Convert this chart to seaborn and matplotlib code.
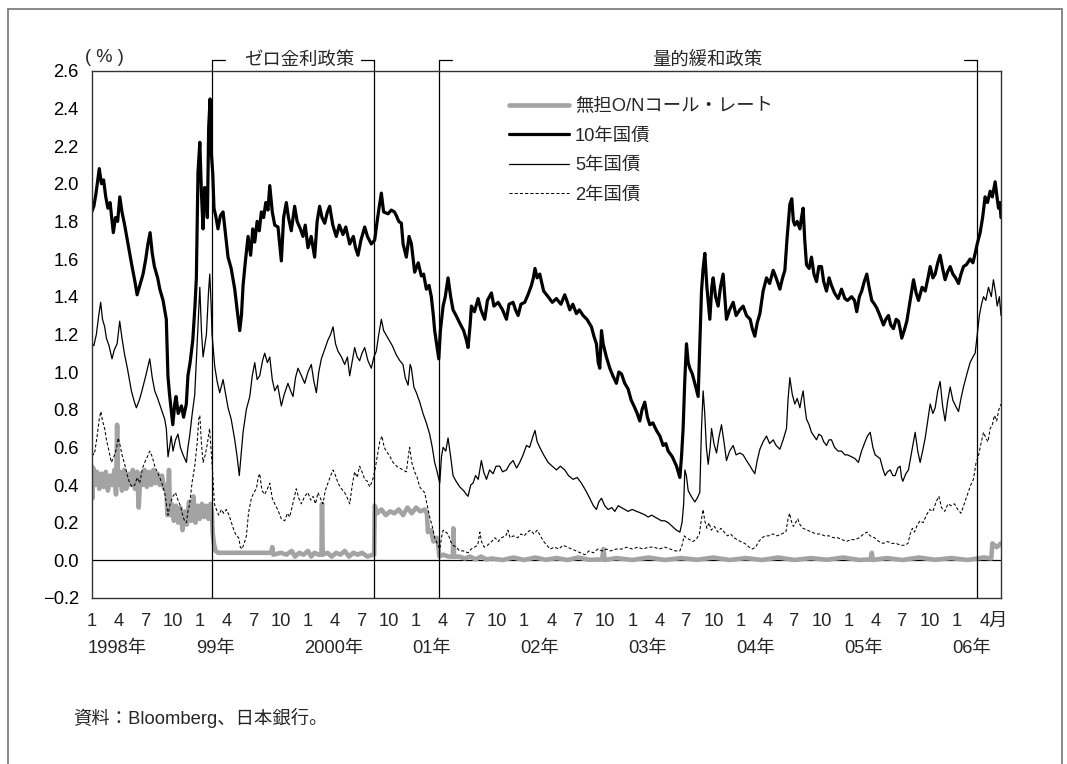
import numpy as np
import matplotlib
matplotlib.use("Agg")
import matplotlib.pyplot as plt
import matplotlib.transforms as mtransforms
from matplotlib.lines import Line2D
import seaborn as sns

# ---------------- data (decimal years, percent) ----------------
jgb10_t = [1998.00, 1998.02, 1998.04, 1998.07, 1998.09, 1998.11, 1998.13, 1998.15, 1998.17, 1998.20,
           1998.22, 1998.24, 1998.26, 1998.28, 1998.305, 1998.33, 1998.37, 1998.40, 1998.42, 1998.45,
           1998.475, 1998.50, 1998.52, 1998.54, 1998.56, 1998.58, 1998.61, 1998.63, 1998.66, 1998.69,
           1998.705, 1998.72, 1998.735, 1998.75, 1998.77, 1998.78, 1998.80, 1998.83, 1998.85, 1998.875,
           1998.89, 1998.91, 1998.935, 1998.955, 1998.968, 1998.983, 1999.00, 1999.015, 1999.03, 1999.045,
           1999.061, 1999.07, 1999.082, 1999.095, 1999.108, 1999.12, 1999.131, 1999.15, 1999.168, 1999.19,
           1999.215, 1999.24, 1999.261, 1999.29, 1999.323, 1999.345, 1999.369, 1999.385, 1999.40, 1999.42,
           1999.446, 1999.47, 1999.49, 1999.508, 1999.53, 1999.55, 1999.569, 1999.59, 1999.61, 1999.63,
           1999.647, 1999.67, 1999.693, 1999.723, 1999.754, 1999.775, 1999.80, 1999.82, 1999.846, 1999.877,
           1999.90, 1999.93, 1999.954, 1999.975, 2000.00, 2000.03, 2000.062, 2000.085, 2000.108, 2000.13,
           2000.155, 2000.18, 2000.201, 2000.23, 2000.262, 2000.29, 2000.324, 2000.35, 2000.386, 2000.42,
           2000.44, 2000.463, 2000.49, 2000.525, 2000.55, 2000.586, 2000.617, 2000.64, 2000.66, 2000.679,
           2000.70, 2000.741, 2000.77, 2000.80, 2000.818, 2000.84, 2000.864, 2000.88, 2000.91, 2000.935,
           2000.957, 2000.987, 2001.02, 2001.049, 2001.07, 2001.095, 2001.12, 2001.141, 2001.16, 2001.172,
           2001.19, 2001.21, 2001.225, 2001.25, 2001.27, 2001.296, 2001.32, 2001.342, 2001.37, 2001.404,
           2001.44, 2001.465, 2001.481, 2001.50, 2001.512, 2001.54, 2001.574, 2001.60, 2001.635, 2001.66,
           2001.697, 2001.72, 2001.759, 2001.80, 2001.836, 2001.86, 2001.897, 2001.92, 2001.944, 2001.97,
           2002.005, 2002.035, 2002.067, 2002.085, 2002.10, 2002.12, 2002.144, 2002.18, 2002.221, 2002.26,
           2002.298, 2002.34, 2002.375, 2002.40, 2002.422, 2002.45, 2002.483, 2002.51, 2002.545, 2002.58,
           2002.622, 2002.645, 2002.668, 2002.685, 2002.699, 2002.715, 2002.73, 2002.76, 2002.792, 2002.82,
           2002.853, 2002.875, 2002.90, 2002.93, 2002.961, 2002.99, 2003.023, 2003.045, 2003.069, 2003.09,
           2003.115, 2003.14, 2003.162, 2003.19, 2003.223, 2003.255, 2003.285, 2003.31, 2003.332, 2003.37,
           2003.409, 2003.44, 2003.455, 2003.47, 2003.485, 2003.501, 2003.517, 2003.532, 2003.555, 2003.578,
           2003.609, 2003.625, 2003.64, 2003.655, 2003.671, 2003.69, 2003.717, 2003.735, 2003.748, 2003.77,
           2003.794, 2003.815, 2003.84, 2003.855, 2003.871, 2003.90, 2003.933, 2003.96, 2003.994, 2004.025,
           2004.056, 2004.09, 2004.11, 2004.133, 2004.155, 2004.18, 2004.21, 2004.241, 2004.27, 2004.303,
           2004.33, 2004.365, 2004.39, 2004.411, 2004.43, 2004.457, 2004.475, 2004.49, 2004.503, 2004.525,
           2004.55, 2004.565, 2004.58, 2004.595, 2004.611, 2004.635, 2004.657, 2004.68, 2004.704, 2004.725,
           2004.75, 2004.77, 2004.796, 2004.82, 2004.842, 2004.87, 2004.904, 2004.935, 2004.966, 2004.99,
           2005.028, 2005.055, 2005.076, 2005.10, 2005.122, 2005.145, 2005.169, 2005.19, 2005.215, 2005.24,
           2005.261, 2005.29, 2005.323, 2005.345, 2005.369, 2005.39, 2005.415, 2005.44, 2005.462, 2005.48,
           2005.492, 2005.515, 2005.539, 2005.57, 2005.601, 2005.625, 2005.647, 2005.68, 2005.709, 2005.735,
           2005.755, 2005.78, 2005.801, 2005.825, 2005.847, 2005.87, 2005.893, 2005.915, 2005.94, 2005.965,
           2005.99, 2006.017, 2006.04, 2006.063, 2006.09, 2006.124, 2006.15, 2006.171, 2006.19, 2006.217,
           2006.24, 2006.263, 2006.285, 2006.31, 2006.33, 2006.356, 2006.375, 2006.387, 2006.40, 2006.41]
jgb10_v = [1.85, 1.88, 1.95, 2.08, 2.00, 2.02, 1.93, 1.87, 1.90, 1.74,
           1.82, 1.80, 1.93, 1.85, 1.78, 1.70, 1.57, 1.48, 1.41, 1.47,
           1.52, 1.60, 1.68, 1.74, 1.63, 1.56, 1.50, 1.44, 1.38, 1.28,
           0.98, 0.88, 0.80, 0.72, 0.84, 0.87, 0.78, 0.82, 0.76, 0.83,
           0.98, 1.05, 1.17, 1.35, 1.50, 2.06, 2.22, 1.95, 1.76, 1.98,
           1.94, 1.82, 2.30, 2.45, 2.15, 2.05, 1.87, 1.82, 1.76, 1.83,
           1.85, 1.72, 1.61, 1.55, 1.44, 1.33, 1.22, 1.30, 1.46, 1.58,
           1.72, 1.62, 1.76, 1.69, 1.80, 1.75, 1.85, 1.82, 1.90, 1.86,
           1.99, 1.85, 1.78, 1.77, 1.59, 1.82, 1.90, 1.82, 1.75, 1.88,
           1.80, 1.76, 1.72, 1.78, 1.66, 1.72, 1.61, 1.80, 1.88, 1.82,
           1.79, 1.85, 1.88, 1.78, 1.72, 1.78, 1.73, 1.77, 1.68, 1.72,
           1.66, 1.62, 1.70, 1.77, 1.72, 1.68, 1.70, 1.80, 1.88, 1.95,
           1.85, 1.84, 1.86, 1.85, 1.83, 1.80, 1.79, 1.68, 1.61, 1.72,
           1.68, 1.53, 1.58, 1.51, 1.52, 1.44, 1.46, 1.40, 1.30, 1.22,
           1.15, 1.07, 1.22, 1.35, 1.40, 1.50, 1.40, 1.33, 1.30, 1.26,
           1.22, 1.17, 1.13, 1.25, 1.35, 1.32, 1.39, 1.33, 1.28, 1.38,
           1.42, 1.35, 1.37, 1.33, 1.28, 1.36, 1.37, 1.33, 1.30, 1.36,
           1.37, 1.41, 1.46, 1.50, 1.55, 1.50, 1.52, 1.43, 1.40, 1.37,
           1.39, 1.36, 1.41, 1.37, 1.33, 1.36, 1.31, 1.33, 1.30, 1.28,
           1.24, 1.19, 1.15, 1.05, 1.02, 1.22, 1.15, 1.08, 1.02, 0.98,
           0.94, 1.00, 0.99, 0.94, 0.91, 0.85, 0.81, 0.78, 0.74, 0.80,
           0.84, 0.76, 0.72, 0.73, 0.69, 0.66, 0.61, 0.62, 0.58, 0.55,
           0.50, 0.44, 0.55, 0.70, 0.95, 1.15, 1.05, 1.02, 0.99, 0.94,
           0.87, 1.15, 1.43, 1.55, 1.63, 1.45, 1.28, 1.45, 1.50, 1.40,
           1.35, 1.45, 1.52, 1.40, 1.28, 1.33, 1.37, 1.30, 1.33, 1.35,
           1.30, 1.28, 1.23, 1.19, 1.26, 1.31, 1.43, 1.50, 1.47, 1.54,
           1.50, 1.44, 1.50, 1.54, 1.70, 1.89, 1.92, 1.80, 1.78, 1.80,
           1.76, 1.82, 1.87, 1.70, 1.57, 1.55, 1.61, 1.52, 1.48, 1.56,
           1.56, 1.48, 1.43, 1.50, 1.46, 1.42, 1.39, 1.44, 1.39, 1.38,
           1.40, 1.38, 1.32, 1.40, 1.43, 1.48, 1.52, 1.45, 1.38, 1.36,
           1.34, 1.30, 1.25, 1.28, 1.30, 1.25, 1.23, 1.28, 1.27, 1.22,
           1.18, 1.22, 1.27, 1.38, 1.49, 1.42, 1.38, 1.45, 1.43, 1.50,
           1.56, 1.50, 1.52, 1.58, 1.62, 1.55, 1.49, 1.53, 1.56, 1.52,
           1.50, 1.47, 1.52, 1.56, 1.57, 1.60, 1.58, 1.63, 1.68, 1.74,
           1.82, 1.93, 1.90, 1.96, 1.93, 2.01, 1.92, 1.87, 1.90, 1.82]

jgb5_t = [1998.00, 1998.02, 1998.043, 1998.065, 1998.083, 1998.10, 1998.12, 1998.136, 1998.16, 1998.188,
          1998.21, 1998.235, 1998.259, 1998.28, 1998.305, 1998.33, 1998.367, 1998.39, 1998.413, 1998.44,
          1998.46, 1998.50, 1998.537, 1998.56, 1998.583, 1998.61, 1998.645, 1998.675, 1998.69, 1998.706,
          1998.72, 1998.735, 1998.752, 1998.775, 1998.798, 1998.82, 1998.845, 1998.876, 1998.89, 1998.906,
          1998.93, 1998.953, 1998.975, 1999.00, 1999.015, 1999.03, 1999.061, 1999.08, 1999.092, 1999.105,
          1999.113, 1999.138, 1999.16, 1999.184, 1999.215, 1999.24, 1999.261, 1999.29, 1999.323, 1999.345,
          1999.365, 1999.38, 1999.40, 1999.43, 1999.462, 1999.485, 1999.508, 1999.53, 1999.554, 1999.58,
          1999.60, 1999.625, 1999.647, 1999.67, 1999.693, 1999.72, 1999.754, 1999.78, 1999.815, 1999.84,
          1999.862, 1999.885, 1999.908, 1999.94, 1999.970, 2000.00, 2000.031, 2000.055, 2000.078, 2000.10,
          2000.124, 2000.155, 2000.185, 2000.21, 2000.232, 2000.255, 2000.278, 2000.31, 2000.34, 2000.365,
          2000.386, 2000.41, 2000.432, 2000.455, 2000.478, 2000.50, 2000.525, 2000.555, 2000.586, 2000.61,
          2000.632, 2000.655, 2000.679, 2000.70, 2000.72, 2000.741, 2000.78, 2000.818, 2000.85, 2000.879,
          2000.90, 2000.926, 2000.945, 2000.957, 2000.98, 2001.003, 2001.034, 2001.064, 2001.095, 2001.126,
          2001.15, 2001.172, 2001.195, 2001.219, 2001.235, 2001.25, 2001.275, 2001.296, 2001.32, 2001.342,
          2001.37, 2001.404, 2001.44, 2001.465, 2001.481, 2001.505, 2001.527, 2001.55, 2001.575, 2001.604,
          2001.625, 2001.651, 2001.68, 2001.712, 2001.74, 2001.774, 2001.80, 2001.836, 2001.865, 2001.897,
          2001.93, 2001.959, 2001.99, 2002.021, 2002.05, 2002.082, 2002.10, 2002.12, 2002.144, 2002.18,
          2002.221, 2002.26, 2002.298, 2002.335, 2002.375, 2002.41, 2002.452, 2002.49, 2002.529, 2002.57,
          2002.606, 2002.64, 2002.668, 2002.69, 2002.715, 2002.745, 2002.776, 2002.81, 2002.838, 2002.87,
          2002.90, 2002.93, 2002.961, 2003.00, 2003.04, 2003.084, 2003.12, 2003.146, 2003.18, 2003.208,
          2003.24, 2003.269, 2003.30, 2003.332, 2003.37, 2003.409, 2003.44, 2003.46, 2003.475, 2003.486,
          2003.50, 2003.517, 2003.545, 2003.578, 2003.60, 2003.624, 2003.64, 2003.655, 2003.67, 2003.685,
          2003.702, 2003.72, 2003.733, 2003.755, 2003.779, 2003.80, 2003.825, 2003.85, 2003.871, 2003.90,
          2003.933, 2003.96, 2003.994, 2004.025, 2004.056, 2004.09, 2004.11, 2004.133, 2004.155, 2004.18,
          2004.21, 2004.241, 2004.27, 2004.303, 2004.33, 2004.365, 2004.395, 2004.426, 2004.44, 2004.457,
          2004.48, 2004.503, 2004.525, 2004.55, 2004.565, 2004.58, 2004.595, 2004.611, 2004.635, 2004.657,
          2004.68, 2004.704, 2004.725, 2004.75, 2004.77, 2004.796, 2004.82, 2004.842, 2004.87, 2004.904,
          2004.935, 2004.966, 2004.99, 2005.028, 2005.06, 2005.091, 2005.12, 2005.153, 2005.175, 2005.20,
          2005.225, 2005.246, 2005.27, 2005.292, 2005.315, 2005.338, 2005.36, 2005.385, 2005.41, 2005.431,
          2005.455, 2005.477, 2005.49, 2005.502, 2005.53, 2005.554, 2005.585, 2005.616, 2005.64, 2005.662,
          2005.685, 2005.709, 2005.735, 2005.755, 2005.78, 2005.801, 2005.825, 2005.847, 2005.87, 2005.893,
          2005.915, 2005.94, 2005.965, 2005.99, 2006.017, 2006.04, 2006.063, 2006.09, 2006.124, 2006.15,
          2006.171, 2006.19, 2006.21, 2006.23, 2006.248, 2006.27, 2006.294, 2006.32, 2006.34, 2006.36,
          2006.375, 2006.395, 2006.41]
jgb5_v = [1.15, 1.14, 1.20, 1.30, 1.37, 1.28, 1.24, 1.18, 1.14, 1.07,
          1.12, 1.15, 1.27, 1.18, 1.09, 1.02, 0.90, 0.85, 0.81, 0.85,
          0.89, 0.98, 1.07, 0.97, 0.90, 0.86, 0.80, 0.75, 0.70, 0.55,
          0.60, 0.66, 0.58, 0.64, 0.67, 0.60, 0.56, 0.52, 0.60, 0.66,
          0.78, 0.88, 1.15, 1.45, 1.22, 1.08, 1.20, 1.42, 1.52, 1.35,
          1.20, 1.03, 0.95, 0.89, 0.96, 0.88, 0.81, 0.75, 0.64, 0.55,
          0.45, 0.55, 0.68, 0.80, 0.87, 0.98, 1.05, 0.96, 0.98, 1.06,
          1.10, 1.05, 1.08, 0.96, 0.90, 0.93, 0.82, 0.88, 0.94, 0.90,
          0.87, 0.97, 1.02, 0.98, 0.94, 1.00, 1.04, 0.95, 0.89, 1.00,
          1.07, 1.12, 1.17, 1.20, 1.24, 1.15, 1.11, 1.08, 1.04, 1.08,
          0.98, 1.06, 1.13, 1.08, 1.06, 1.10, 1.13, 1.06, 1.02, 1.08,
          1.11, 1.20, 1.28, 1.22, 1.20, 1.18, 1.14, 1.09, 1.06, 1.04,
          0.97, 0.93, 1.04, 1.02, 0.92, 0.89, 0.84, 0.78, 0.73, 0.67,
          0.60, 0.52, 0.47, 0.41, 0.55, 0.60, 0.58, 0.65, 0.55, 0.45,
          0.42, 0.39, 0.37, 0.35, 0.34, 0.40, 0.41, 0.45, 0.43, 0.53,
          0.47, 0.43, 0.48, 0.46, 0.50, 0.50, 0.47, 0.48, 0.51, 0.53,
          0.49, 0.52, 0.56, 0.61, 0.60, 0.66, 0.69, 0.63, 0.60, 0.56,
          0.52, 0.50, 0.48, 0.50, 0.48, 0.45, 0.43, 0.44, 0.41, 0.37,
          0.33, 0.29, 0.27, 0.31, 0.33, 0.29, 0.27, 0.28, 0.26, 0.29,
          0.28, 0.27, 0.26, 0.27, 0.26, 0.25, 0.24, 0.23, 0.24, 0.23,
          0.22, 0.21, 0.21, 0.20, 0.18, 0.16, 0.15, 0.20, 0.30, 0.48,
          0.45, 0.37, 0.34, 0.31, 0.33, 0.36, 0.70, 0.90, 0.78, 0.60,
          0.51, 0.60, 0.70, 0.62, 0.57, 0.65, 0.72, 0.62, 0.53, 0.58,
          0.61, 0.56, 0.57, 0.56, 0.53, 0.50, 0.48, 0.46, 0.53, 0.59,
          0.63, 0.66, 0.62, 0.64, 0.61, 0.59, 0.64, 0.70, 0.85, 0.97,
          0.88, 0.83, 0.86, 0.81, 0.86, 0.90, 0.82, 0.75, 0.72, 0.68,
          0.66, 0.64, 0.67, 0.66, 0.63, 0.61, 0.64, 0.64, 0.60, 0.58,
          0.58, 0.56, 0.56, 0.55, 0.54, 0.52, 0.58, 0.63, 0.66, 0.68,
          0.60, 0.56, 0.55, 0.54, 0.49, 0.45, 0.47, 0.48, 0.45, 0.45,
          0.49, 0.50, 0.44, 0.42, 0.46, 0.48, 0.58, 0.68, 0.58, 0.52,
          0.58, 0.65, 0.75, 0.83, 0.78, 0.81, 0.90, 0.95, 0.82, 0.74,
          0.84, 0.92, 0.85, 0.82, 0.79, 0.86, 0.92, 0.98, 1.05, 1.08,
          1.10, 1.20, 1.30, 1.36, 1.40, 1.38, 1.45, 1.40, 1.49, 1.42,
          1.35, 1.40, 1.30]

jgb2_t = [1998.00, 1998.015, 1998.03, 1998.05, 1998.07, 1998.085, 1998.10, 1998.12, 1998.136, 1998.16,
          1998.182, 1998.205, 1998.228, 1998.245, 1998.259, 1998.28, 1998.305, 1998.33, 1998.351, 1998.375,
          1998.398, 1998.42, 1998.444, 1998.47, 1998.49, 1998.515, 1998.537, 1998.56, 1998.583, 1998.605,
          1998.629, 1998.655, 1998.675, 1998.69, 1998.706, 1998.725, 1998.752, 1998.775, 1998.798, 1998.82,
          1998.845, 1998.86, 1998.876, 1998.89, 1998.906, 1998.93, 1998.953, 1998.975, 1998.99, 1999.00,
          1999.015, 1999.03, 1999.05, 1999.07, 1999.09, 1999.105, 1999.12, 1999.135, 1999.153, 1999.175,
          1999.20, 1999.22, 1999.246, 1999.27, 1999.292, 1999.315, 1999.338, 1999.36, 1999.375, 1999.39,
          1999.41, 1999.431, 1999.45, 1999.477, 1999.50, 1999.523, 1999.54, 1999.554, 1999.575, 1999.60,
          1999.625, 1999.647, 1999.67, 1999.693, 1999.72, 1999.754, 1999.785, 1999.81, 1999.831, 1999.86,
          1999.892, 1999.915, 1999.939, 1999.97, 2000.00, 2000.025, 2000.047, 2000.07, 2000.093, 2000.115,
          2000.139, 2000.16, 2000.185, 2000.21, 2000.232, 2000.255, 2000.278, 2000.31, 2000.34, 2000.365,
          2000.386, 2000.41, 2000.432, 2000.455, 2000.478, 2000.50, 2000.525, 2000.55, 2000.571, 2000.595,
          2000.617, 2000.64, 2000.664, 2000.685, 2000.705, 2000.725, 2000.75, 2000.787, 2000.82, 2000.848,
          2000.88, 2000.91, 2000.93, 2000.941, 2000.96, 2000.987, 2001.01, 2001.034, 2001.06, 2001.08,
          2001.10, 2001.126, 2001.15, 2001.172, 2001.195, 2001.219, 2001.235, 2001.25, 2001.275, 2001.296,
          2001.32, 2001.342, 2001.37, 2001.404, 2001.44, 2001.481, 2001.51, 2001.54, 2001.57, 2001.59,
          2001.605, 2001.63, 2001.66, 2001.70, 2001.73, 2001.76, 2001.79, 2001.83, 2001.85, 2001.87,
          2001.90, 2001.94, 2001.97, 2002.00, 2002.03, 2002.06, 2002.09, 2002.12, 2002.15, 2002.18,
          2002.21, 2002.24, 2002.28, 2002.32, 2002.36, 2002.40, 2002.44, 2002.48, 2002.52, 2002.56,
          2002.60, 2002.64, 2002.68, 2002.72, 2002.76, 2002.80, 2002.85, 2002.90, 2002.95, 2003.00,
          2003.05, 2003.10, 2003.15, 2003.20, 2003.25, 2003.30, 2003.35, 2003.40, 2003.44, 2003.46,
          2003.48, 2003.50, 2003.53, 2003.56, 2003.59, 2003.62, 2003.64, 2003.655, 2003.67, 2003.69,
          2003.71, 2003.73, 2003.76, 2003.79, 2003.82, 2003.85, 2003.88, 2003.91, 2003.94, 2003.97,
          2004.00, 2004.04, 2004.08, 2004.11, 2004.14, 2004.17, 2004.20, 2004.23, 2004.26, 2004.30,
          2004.34, 2004.38, 2004.42, 2004.44, 2004.455, 2004.47, 2004.49, 2004.51, 2004.53, 2004.55,
          2004.58, 2004.62, 2004.66, 2004.70, 2004.74, 2004.78, 2004.82, 2004.86, 2004.90, 2004.94,
          2004.98, 2005.02, 2005.06, 2005.10, 2005.14, 2005.17, 2005.20, 2005.24, 2005.28, 2005.32,
          2005.36, 2005.40, 2005.44, 2005.48, 2005.52, 2005.55, 2005.57, 2005.59, 2005.61, 2005.63,
          2005.66, 2005.69, 2005.72, 2005.75, 2005.78, 2005.81, 2005.835, 2005.86, 2005.89, 2005.92,
          2005.95, 2005.98, 2006.01, 2006.04, 2006.07, 2006.10, 2006.13, 2006.155, 2006.18, 2006.20,
          2006.225, 2006.248, 2006.27, 2006.29, 2006.31, 2006.33, 2006.35, 2006.37, 2006.39, 2006.41]
jgb2_v = [0.60, 0.56, 0.58, 0.66, 0.75, 0.79, 0.74, 0.70, 0.64, 0.58,
          0.52, 0.55, 0.59, 0.65, 0.62, 0.56, 0.51, 0.45, 0.41, 0.39,
          0.40, 0.44, 0.41, 0.49, 0.52, 0.55, 0.58, 0.55, 0.50, 0.47,
          0.44, 0.40, 0.36, 0.30, 0.24, 0.30, 0.34, 0.36, 0.32, 0.29,
          0.23, 0.21, 0.20, 0.26, 0.30, 0.42, 0.50, 0.62, 0.75, 0.77,
          0.62, 0.52, 0.56, 0.62, 0.70, 0.58, 0.45, 0.30, 0.27, 0.24,
          0.27, 0.25, 0.27, 0.24, 0.20, 0.16, 0.13, 0.12, 0.07, 0.06,
          0.09, 0.13, 0.25, 0.33, 0.36, 0.38, 0.44, 0.46, 0.37, 0.35,
          0.38, 0.41, 0.33, 0.30, 0.27, 0.22, 0.21, 0.25, 0.23, 0.30,
          0.38, 0.33, 0.30, 0.34, 0.36, 0.32, 0.34, 0.30, 0.36, 0.33,
          0.30, 0.37, 0.41, 0.45, 0.48, 0.45, 0.41, 0.38, 0.36, 0.33,
          0.30, 0.40, 0.47, 0.44, 0.50, 0.47, 0.43, 0.42, 0.39, 0.42,
          0.47, 0.55, 0.63, 0.66, 0.60, 0.58, 0.56, 0.52, 0.50, 0.49,
          0.48, 0.47, 0.56, 0.60, 0.52, 0.47, 0.44, 0.39, 0.37, 0.36,
          0.30, 0.23, 0.18, 0.12, 0.09, 0.06, 0.12, 0.16, 0.15, 0.14,
          0.10, 0.08, 0.07, 0.05, 0.05, 0.04, 0.06, 0.07, 0.08, 0.15,
          0.10, 0.07, 0.08, 0.10, 0.12, 0.10, 0.12, 0.13, 0.16, 0.12,
          0.13, 0.12, 0.14, 0.13, 0.15, 0.16, 0.14, 0.16, 0.13, 0.10,
          0.08, 0.06, 0.07, 0.06, 0.08, 0.07, 0.06, 0.05, 0.04, 0.03,
          0.05, 0.04, 0.06, 0.05, 0.06, 0.05, 0.06, 0.06, 0.07, 0.06,
          0.07, 0.06, 0.07, 0.07, 0.06, 0.07, 0.06, 0.05, 0.05, 0.08,
          0.13, 0.12, 0.11, 0.10, 0.11, 0.14, 0.22, 0.27, 0.21, 0.17,
          0.20, 0.16, 0.18, 0.15, 0.17, 0.15, 0.13, 0.14, 0.12, 0.11,
          0.10, 0.09, 0.07, 0.06, 0.07, 0.10, 0.12, 0.13, 0.13, 0.14,
          0.13, 0.14, 0.15, 0.22, 0.25, 0.21, 0.18, 0.20, 0.22, 0.19,
          0.17, 0.16, 0.15, 0.14, 0.14, 0.13, 0.13, 0.12, 0.12, 0.11,
          0.10, 0.11, 0.11, 0.12, 0.14, 0.15, 0.13, 0.12, 0.10, 0.09,
          0.10, 0.09, 0.09, 0.08, 0.08, 0.09, 0.14, 0.17, 0.15, 0.18,
          0.21, 0.20, 0.24, 0.27, 0.26, 0.31, 0.34, 0.28, 0.26, 0.30,
          0.29, 0.30, 0.27, 0.25, 0.30, 0.35, 0.40, 0.43, 0.52, 0.55,
          0.62, 0.68, 0.65, 0.63, 0.70, 0.72, 0.77, 0.74, 0.80, 0.83]

call_t = [1998.00, 1998.008, 1998.015, 1998.03, 1998.05, 1998.07, 1998.09, 1998.11, 1998.13, 1998.15,
          1998.17, 1998.19, 1998.21, 1998.225, 1998.235, 1998.245, 1998.26, 1998.28, 1998.30, 1998.32,
          1998.34, 1998.36, 1998.38, 1998.40, 1998.42, 1998.435, 1998.45, 1998.47, 1998.49, 1998.51,
          1998.53, 1998.55, 1998.57, 1998.59, 1998.61, 1998.63, 1998.65, 1998.67, 1998.69, 1998.70,
          1998.715, 1998.725, 1998.74, 1998.76, 1998.78, 1998.80, 1998.82, 1998.84, 1998.86, 1998.88,
          1998.90, 1998.92, 1998.94, 1998.96, 1998.98, 1999.00, 1999.02, 1999.04, 1999.06, 1999.08,
          1999.10, 1999.112, 1999.118, 1999.13, 1999.145, 1999.17, 1999.30, 1999.50, 1999.66, 1999.67,
          1999.68, 1999.75, 1999.80, 1999.85, 1999.88, 1999.92, 1999.96, 2000.00, 2000.03, 2000.06,
          2000.10, 2000.125, 2000.13, 2000.137, 2000.18, 2000.22, 2000.26, 2000.30, 2000.34, 2000.38,
          2000.42, 2000.46, 2000.50, 2000.55, 2000.60, 2000.612, 2000.618, 2000.64, 2000.68, 2000.72,
          2000.76, 2000.80, 2000.84, 2000.88, 2000.92, 2000.96, 2001.00, 2001.04, 2001.08, 2001.10,
          2001.11, 2001.14, 2001.16, 2001.19, 2001.205, 2001.215, 2001.25, 2001.30, 2001.34, 2001.345,
          2001.352, 2001.40, 2001.45, 2001.50, 2001.55, 2001.60, 2001.65, 2001.70, 2001.80, 2001.90,
          2002.00, 2002.10, 2002.20, 2002.30, 2002.40, 2002.50, 2002.60, 2002.72, 2002.733, 2002.745,
          2002.85, 2003.00, 2003.15, 2003.30, 2003.45, 2003.60, 2003.75, 2003.90, 2004.05, 2004.20,
          2004.35, 2004.50, 2004.65, 2004.80, 2004.95, 2005.10, 2005.205, 2005.215, 2005.225, 2005.35,
          2005.50, 2005.65, 2005.80, 2005.95, 2006.10, 2006.25, 2006.32, 2006.33, 2006.37, 2006.41]
call_v = [0.50, 0.33, 0.49, 0.40, 0.47, 0.38, 0.46, 0.39, 0.47, 0.37,
          0.45, 0.40, 0.48, 0.35, 0.72, 0.40, 0.47, 0.37, 0.48, 0.38,
          0.46, 0.40, 0.48, 0.38, 0.47, 0.28, 0.46, 0.40, 0.48, 0.39,
          0.47, 0.40, 0.48, 0.41, 0.46, 0.40, 0.45, 0.38, 0.40, 0.24,
          0.48, 0.24, 0.30, 0.21, 0.29, 0.20, 0.28, 0.16, 0.26, 0.19,
          0.31, 0.21, 0.34, 0.20, 0.29, 0.22, 0.30, 0.23, 0.29, 0.22,
          0.30, 0.25, 0.15, 0.09, 0.05, 0.04, 0.04, 0.04, 0.04, 0.07,
          0.03, 0.04, 0.03, 0.05, 0.02, 0.04, 0.03, 0.05, 0.02, 0.04,
          0.03, 0.03, 0.30, 0.03, 0.04, 0.02, 0.04, 0.03, 0.05, 0.02,
          0.04, 0.03, 0.04, 0.02, 0.03, 0.03, 0.29, 0.25, 0.27, 0.24,
          0.26, 0.25, 0.27, 0.24, 0.28, 0.25, 0.28, 0.26, 0.27, 0.25,
          0.15, 0.16, 0.10, 0.12, 0.08, 0.02, 0.03, 0.02, 0.02, 0.17,
          0.02, 0.02, 0.01, 0.02, 0.005, 0.02, 0.005, 0.01, 0.002, 0.015,
          0.002, 0.015, 0.003, 0.012, 0.002, 0.015, 0.003, 0.005, 0.06, 0.002,
          0.012, 0.002, 0.015, 0.002, 0.012, 0.003, 0.015, 0.002, 0.012, 0.002,
          0.015, 0.002, 0.012, 0.003, 0.015, 0.002, 0.005, 0.04, 0.002, 0.012,
          0.002, 0.015, 0.003, 0.012, 0.002, 0.015, 0.01, 0.09, 0.07, 0.09]

policy_dates = [1999.115, 2000.61, 2001.21, 2006.186]   # zero-rate start/end, QE start/end
policy_names = ["ゼロ金利政策", "量的緩和政策"]
years = list(range(1998, 2007))
year_labels = ["1998年", "99年", "2000年", "01年", "02年", "03年", "04年", "05年", "06年"]
series_labels = ["無担O/Nコール・レート", "10年国債", "5年国債", "2年国債"]

# ---------------- style ----------------
sns.set_style("white")
plt.rcParams['font.family'] = ['Liberation Sans', 'Noto Sans CJK JP']
plt.rcParams['axes.unicode_minus'] = True

W, H = 1067, 764
PX = 0.72  # points per pixel at dpi 100
fig = plt.figure(figsize=(W / 100, H / 100), dpi=100)
L, R, T, B = 91.7, 1001.0, 70.7, 598.0
ax = fig.add_axes([L / W, 1 - B / H, (R - L) / W, (B - T) / H])
FS = 13.2

GRAY = "#a3a3a3"
sns.lineplot(x=call_t, y=call_v, ax=ax, color=GRAY, linewidth=3.3, sort=False)
sns.lineplot(x=jgb2_t, y=jgb2_v, ax=ax, color="black", linewidth=0.75, linestyle=(0, (3, 2)), sort=False)
sns.lineplot(x=jgb5_t, y=jgb5_v, ax=ax, color="black", linewidth=0.9, sort=False)
sns.lineplot(x=jgb10_t, y=jgb10_v, ax=ax, color="black", linewidth=2.3, sort=False)

ax.axhline(0, color="black", linewidth=0.9, zorder=1)

ax.set_xlim(1998.0, 2006.41)
ax.set_ylim(-0.2, 2.6)
ax.set_xlabel("")
ax.set_ylabel("")

yt = np.round(np.arange(-0.2, 2.61, 0.2), 1)
ax.set_yticks(yt)
ax.set_yticklabels([("−%.1f" % abs(v)) if v < 0 else ("%.1f" % v) for v in yt], fontsize=FS)
ax.tick_params(axis="y", direction="out", length=6 * PX, width=0.8, pad=5, colors="black")

qt = [y + (m - 1) / 12 for y in years for m in (1, 4, 7, 10) if y + (m - 1) / 12 <= 2006.3]
ax.set_xticks(qt)
ax.set_xticklabels([])
ax.tick_params(axis="x", direction="in", length=6 * PX, width=0.8, colors="black")

for s in ax.spines.values():
    s.set_color("#333333")
    s.set_linewidth(1.0)

btrans = mtransforms.blended_transform_factory(ax.transData, ax.transAxes)

# month labels
for i, t in enumerate(qt):
    m = int(round((t - int(t + 1e-9)) * 12)) + 1
    if i == len(qt) - 1:
        ax.annotate(f"{m}月", xy=(t, 0), xycoords=btrans, xytext=(-4.5 * PX, -23 * PX),
                    textcoords="offset points", ha="left", va="center", fontsize=FS)
    else:
        ax.annotate(str(m), xy=(t, 0), xycoords=btrans, xytext=(0, -23 * PX),
                    textcoords="offset points", ha="center", va="center", fontsize=FS)
# year labels
for y, lab in zip(years, year_labels):
    ax.annotate(lab, xy=(y, 0), xycoords=btrans, xytext=(-4 * PX, -51 * PX),
                textcoords="offset points", ha="left", va="center", fontsize=FS)

# policy brackets
ytop = (B - 60) / (B - T)
tick = 13 / 108.1
for k, d in enumerate(policy_dates):
    ax.plot([d, d], [0, ytop], transform=btrans, color="black", lw=0.9, clip_on=False)
    if k % 2 == 0:
        ax.plot([d, d + tick], [ytop, ytop], transform=btrans, color="black", lw=0.9, clip_on=False)
    else:
        ax.plot([d - tick, d], [ytop, ytop], transform=btrans, color="black", lw=0.9, clip_on=False)
ax.text(1999.92, ytop, policy_names[0], transform=btrans, ha="center", va="center", fontsize=FS)
ax.text(2003.69, ytop, policy_names[1], transform=btrans, ha="center", va="center", fontsize=FS)

# unit label
fig.text(85 / W, 1 - 57 / H, "( % )", ha="left", va="center", fontsize=FS)

# legend
handles = [Line2D([], [], color=GRAY, lw=3.3),
           Line2D([], [], color="black", lw=2.3),
           Line2D([], [], color="black", lw=0.9),
           Line2D([], [], color="black", lw=0.75, linestyle=(0, (3, 2)))]
ax.legend(handles, series_labels, loc="upper left", bbox_to_anchor=(509 / W, 1 - 98 / H),
          bbox_transform=fig.transFigure, frameon=False, borderpad=0, borderaxespad=0,
          handlelength=60 * PX / FS, handletextpad=6 * PX / FS, labelspacing=0.68, fontsize=FS)

# source
fig.text(73 / W, 1 - 718 / H, "資料：Bloomberg、日本銀行。", ha="left", va="center", fontsize=FS)

# outer frame (left, top, right)
fc = "#808080"
fig.add_artist(Line2D([8 / W, 8 / W], [0, 1 - 8.5 / H], transform=fig.transFigure, color=fc, lw=1.3))
fig.add_artist(Line2D([8 / W, 1062 / W], [1 - 8.5 / H, 1 - 8.5 / H], transform=fig.transFigure, color=fc, lw=1.3))
fig.add_artist(Line2D([1062 / W, 1062 / W], [0, 1 - 8.5 / H], transform=fig.transFigure, color=fc, lw=1.3))

fig.savefig("out.png", dpi=100)
